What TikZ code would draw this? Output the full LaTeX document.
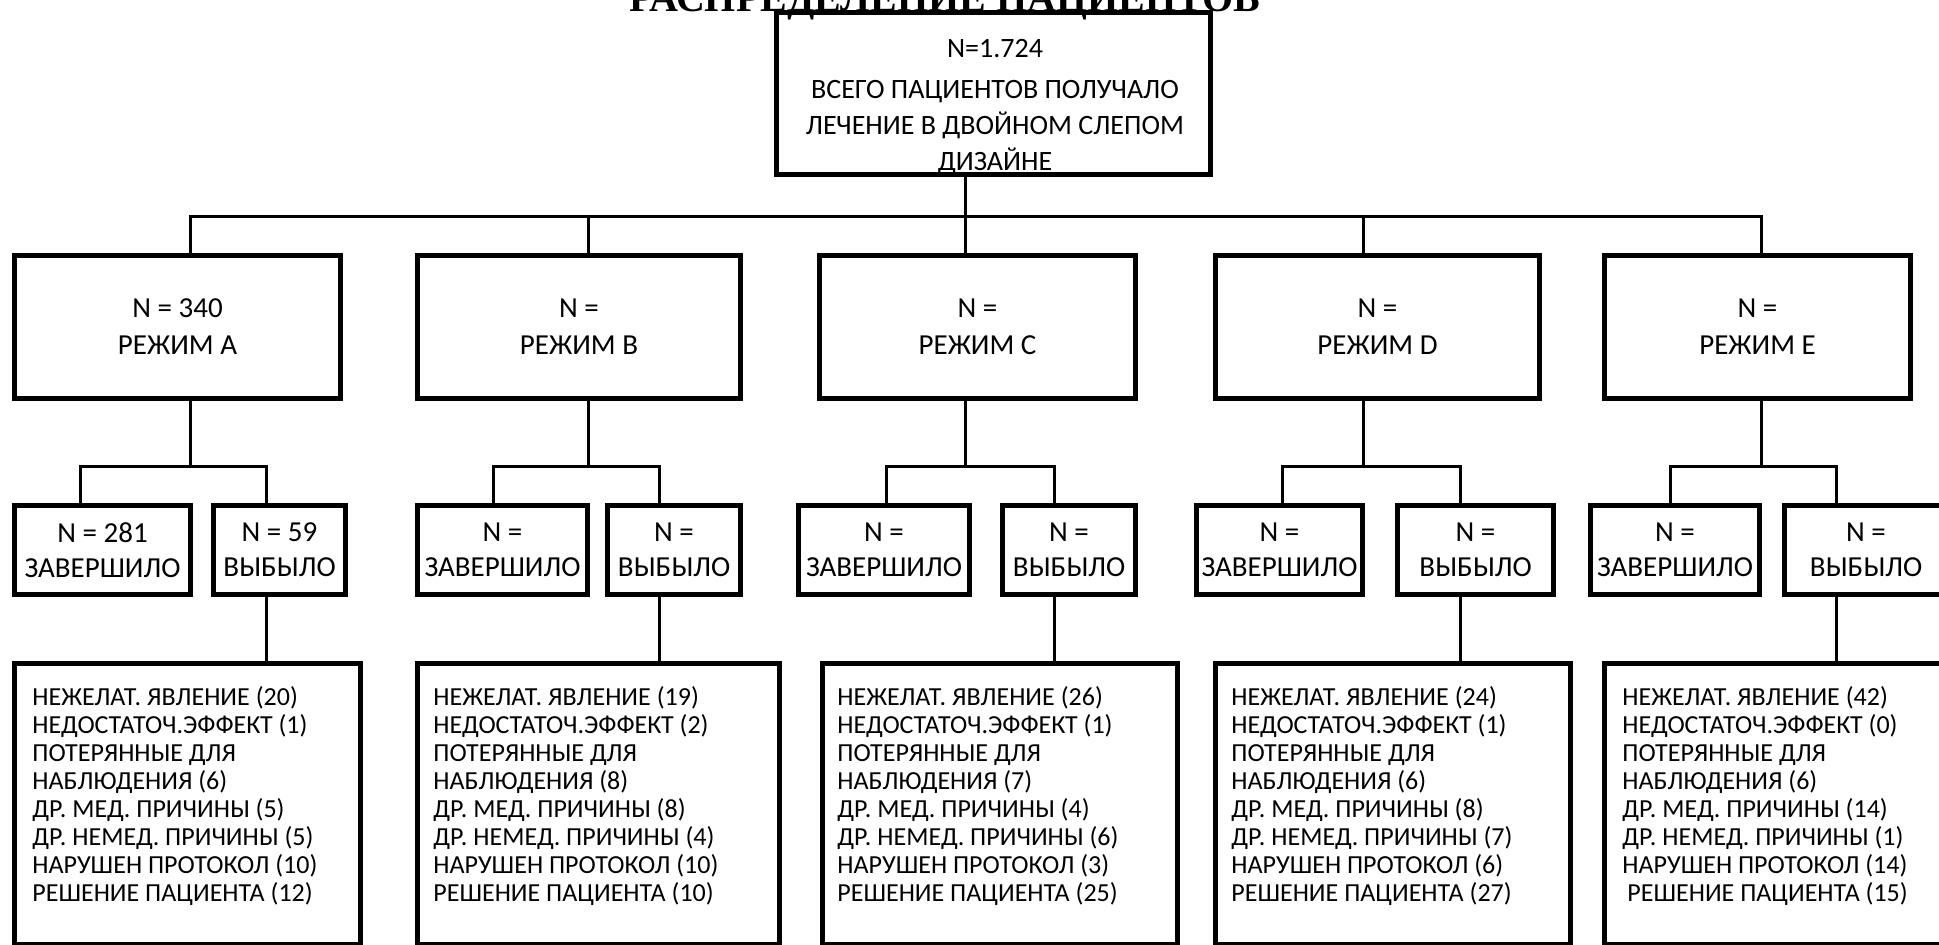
\documentclass[tikz,border=0pt]{standalone}
\usepackage{fontspec}
\setmainfont{Carlito}
\newfontfamily\titlefont{Liberation Serif}

\tikzset{
  caja/.style={draw, line width=2.5pt, inner sep=0pt, align=center,
    font=\fontsize{14.5}{18.5}\selectfont},
  chica/.style={font=\fontsize{14.5}{17.5}\selectfont},
  linea/.style={line width=1.5pt},
  lista/.style={anchor=north west, inner sep=0pt, align=left,
    font=\fontsize{13}{14}\selectfont}
}

% marco: [opciones], nombre, x1, y1, x2, y2 (borde exterior, en px), texto
\newcommand{\marco}[7][]{%
  \node[caja, #1, minimum width={(#5-#3-5)/2}, minimum height={(#6-#4-5)/2}]
    (#2) at ({(#3+#5)/2},{(#4+#6)/2}) {#7};}

% motivos de abandono
\newcommand{\motivos}[8][0pt]{%
  НЕЖЕЛАТ. ЯВЛЕНИЕ (#2)\\
  НЕДОСТАТОЧ.ЭФФЕКТ (#3)\\
  ПОТЕРЯННЫЕ ДЛЯ\\
  НАБЛЮДЕНИЯ (#4)\\
  ДР. МЕД. ПРИЧИНЫ (#5)\\
  ДР. НЕМЕД. ПРИЧИНЫ (#6)\\
  НАРУШЕН ПРОТОКОЛ (#7)\\
  \hspace*{#1}РЕШЕНИЕ ПАЦИЕНТА (#8)}

\begin{document}
\begin{tikzpicture}[x=0.5pt, y=-0.5pt]
  \useasboundingbox (0,0) rectangle (1939,945);

  % Titulo (cortado por el borde superior)
  \node[font=\titlefont\bfseries\fontsize{20}{24}\selectfont, anchor=base, inner sep=0pt]
    (titulo) at (945,12) {РАСПРЕДЕЛЕНИЕ ПАЦИЕНТОВ};

  % Caja superior
  \marco{total}{774}{10}{1213}{177}{}
  \node[align=center, inner sep=0pt, font=\fontsize{14}{18}\selectfont] (totaltxt) at (995,107)
    {N=1.724\\[2.5pt]ВСЕГО ПАЦИЕНТОВ ПОЛУЧАЛО\\ЛЕЧЕНИЕ В ДВОЙНОМ СЛЕПОМ\\ДИЗАЙНЕ};

  % Regimenes
  \marco{modoA}{12}{253}{343}{401}{N = 340\\РЕЖИМ A}
  \marco{modoB}{415}{253}{743}{401}{N =\\РЕЖИМ B}
  \marco{modoC}{817}{253}{1138}{401}{N =\\РЕЖИМ C}
  \marco{modoD}{1213}{253}{1542}{401}{N =\\РЕЖИМ D}
  \marco{modoE}{1602}{253}{1913}{401}{N =\\РЕЖИМ E}

  % Completaron y abandonaron
  \marco[chica]{finA}{12}{503}{193}{597}{N = 281\\ЗАВЕРШИЛО}
  \marco[chica]{bajaA}{211}{503}{348}{597}{N = 59\\ВЫБЫЛО}
  \marco[chica]{finB}{415}{503}{590}{597}{N =\\ЗАВЕРШИЛО}
  \marco[chica]{bajaB}{605}{503}{743}{597}{N =\\ВЫБЫЛО}
  \marco[chica]{finC}{796}{503}{972}{597}{N =\\ЗАВЕРШИЛО}
  \marco[chica]{bajaC}{1000}{503}{1138}{597}{N =\\ВЫБЫЛО}
  \marco[chica]{finD}{1194}{503}{1365}{597}{N =\\ЗАВЕРШИЛО}
  \marco[chica]{bajaD}{1395}{503}{1556}{597}{N =\\ВЫБЫЛО}
  \marco[chica]{finE}{1588}{503}{1762}{597}{N =\\ЗАВЕРШИЛО}
  \marco[chica]{bajaE}{1782}{503}{1950}{597}{N =\\ВЫБЫЛО}

  % Motivos de abandono
  \marco{motA}{12}{661}{363}{947}{}
  \marco{motB}{415}{661}{782}{947}{}
  \marco{motC}{820}{661}{1180}{947}{}
  \marco{motD}{1213}{661}{1573}{947}{}
  \marco{motE}{1602}{661}{1960}{947}{}
  \node[lista] (txtA) at (32,686) {\motivos{20}{1}{6}{5}{5}{10}{12}};
  \node[lista] (txtB) at (433,686) {\motivos{19}{2}{8}{8}{4}{10}{10}};
  \node[lista] (txtC) at (837,686) {\motivos{26}{1}{7}{4}{6}{3}{25}};
  \node[lista] (txtD) at (1231,686) {\motivos{24}{1}{6}{8}{7}{6}{27}};
  \node[lista] (txtE) at (1622,686) {\motivos[2.5pt]{42}{0}{6}{14}{1}{14}{15}};

  % Puntos de ramificacion
  \coordinate (dA) at (190,216.7);
  \coordinate (dB) at (588,216.7);
  \coordinate (dC) at (965,216.7);
  \coordinate (dD) at (1363,216.7);
  \coordinate (dE) at (1761,216.7);
  \coordinate (rA1) at (80,467);   \coordinate (rA2) at (266,467);
  \coordinate (rB1) at (493,467);  \coordinate (rB2) at (659,467);
  \coordinate (rC1) at (886,467);  \coordinate (rC2) at (1054,467);
  \coordinate (rD1) at (1282,467); \coordinate (rD2) at (1460,467);
  \coordinate (rE1) at (1670,467); \coordinate (rE2) at (1836,467);

  % Conectores del nivel superior
  \draw[linea] (total.south -| dC) -- (dC);
  \draw[linea] (modoA.north -| dA) -- (dA) -- (dE) -- (modoE.north -| dE);
  \draw[linea] (dB) -- (modoB.north -| dB);
  \draw[linea] (dC) -- (modoC.north -| dC);
  \draw[linea] (dD) -- (modoD.north -| dD);

  % Conectores de cada regimen
  \draw[linea] (modoA.south -| dA) -- (dA |- rA1);
  \draw[linea] (finA.north -| rA1) -- (rA1) -- (rA2) -- (bajaA.north -| rA2);
  \draw[linea] (bajaA.south -| rA2) -- (motA.north -| rA2);

  \draw[linea] (modoB.south -| dB) -- (dB |- rB1);
  \draw[linea] (finB.north -| rB1) -- (rB1) -- (rB2) -- (bajaB.north -| rB2);
  \draw[linea] (bajaB.south -| rB2) -- (motB.north -| rB2);

  \draw[linea] (modoC.south -| dC) -- (dC |- rC1);
  \draw[linea] (finC.north -| rC1) -- (rC1) -- (rC2) -- (bajaC.north -| rC2);
  \draw[linea] (bajaC.south -| rC2) -- (motC.north -| rC2);

  \draw[linea] (modoD.south -| dD) -- (dD |- rD1);
  \draw[linea] (finD.north -| rD1) -- (rD1) -- (rD2) -- (bajaD.north -| rD2);
  \draw[linea] (bajaD.south -| rD2) -- (motD.north -| rD2);

  \draw[linea] (modoE.south -| dE) -- (dE |- rE1);
  \draw[linea] (finE.north -| rE1) -- (rE1) -- (rE2) -- (bajaE.north -| rE2);
  \draw[linea] (bajaE.south -| rE2) -- (motE.north -| rE2);
\end{tikzpicture}
\end{document}
